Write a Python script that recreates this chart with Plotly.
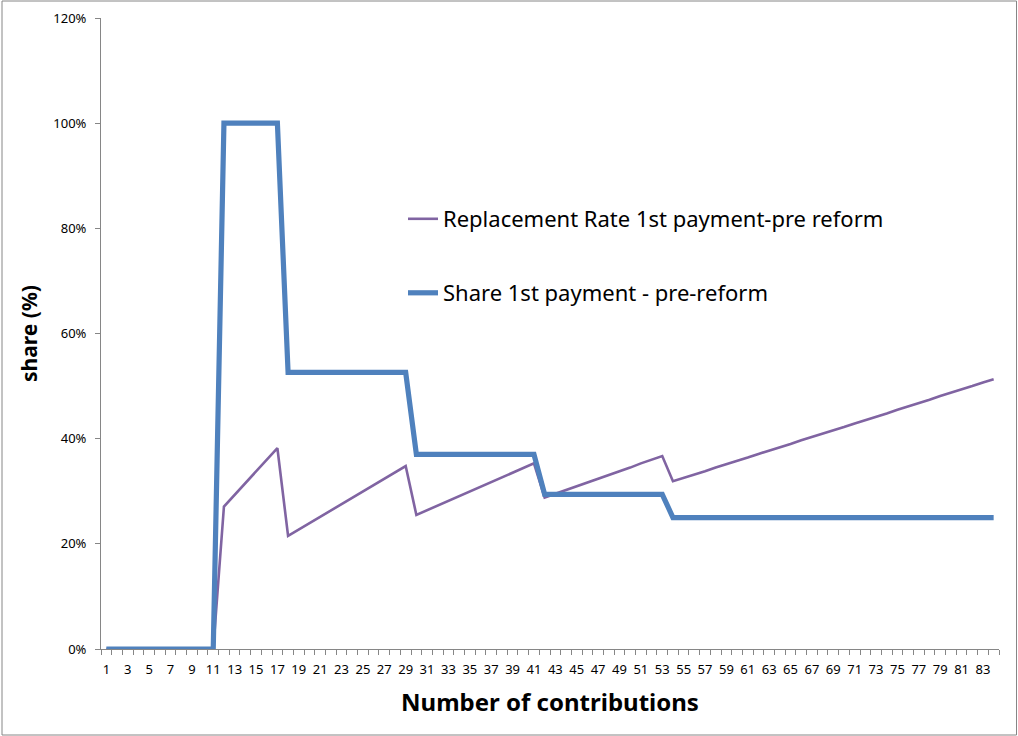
import plotly.graph_objects as go

# Number of contributions (categories 1..84)
contributions = list(range(1, 85))

# Replacement rate of the 1st payment, pre reform (%)
replacement_rate = (
    [0.0] * 11
    + [27.1, 29.3, 31.5, 33.8, 36.0, 38.2]
    + [21.5, 22.7, 23.9, 25.1, 26.3, 27.5, 28.8, 30.0, 31.2, 32.4, 33.6, 34.8]
    + [25.5, 26.4, 27.3, 28.2, 29.1, 30.0, 30.8, 31.7, 32.6, 33.5, 34.4, 35.3]
    + [28.8, 29.5, 30.2, 31.0, 31.7, 32.4, 33.1, 33.8, 34.5, 35.3, 36.0, 36.7]
    + [31.9, 32.5, 33.2, 33.8, 34.5, 35.1, 35.8, 36.4, 37.1, 37.7, 38.4,
       39.0, 39.7, 40.3, 41.0, 41.6, 42.2, 42.9, 43.5, 44.2, 44.8, 45.5,
       46.1, 46.8, 47.4, 48.1, 48.7, 49.4, 50.0, 50.7, 51.3]
)

# Share of the 1st payment, pre reform (%)
share_first_payment = (
    [0.0] * 11
    + [100.0] * 6
    + [52.6] * 12
    + [37.0] * 12
    + [29.4] * 12
    + [25.0] * 31
)

x_tick_labels = [str(v) for v in range(1, 85, 2)]
y_tick_values = [0.0, 0.2, 0.4, 0.6, 0.8, 1.0, 1.2]

W, H = 1018, 736
L, R, T, B = 101, 19, 18, 87
PW, PH = W - L - R, H - T - B


def px_x(px):
    return (px - L) / PW


def px_y(py):
    return (H - B - py) / PH


FONT = "Noto Sans"
AXIS_GRAY = "#868686"

fig = go.Figure()
fig.add_trace(go.Scatter(
    x=contributions, y=[v / 100 for v in replacement_rate],
    mode="lines", name="Replacement Rate 1st payment-pre reform",
    line=dict(color="#8064A2", width=2.6), legend="legend", showlegend=True,
))
fig.add_trace(go.Scatter(
    x=contributions, y=[v / 100 for v in share_first_payment],
    mode="lines", name="Share 1st payment - pre-reform",
    line=dict(color="#4F81BD", width=5.2), legend="legend2", showlegend=True,
))

legend_style = dict(
    xanchor="left", yanchor="middle", bgcolor="rgba(0,0,0,0)",
    font=dict(family=FONT, size=22, color="#000000"),
    itemwidth=30, visible=True,
)

fig.update_layout(
    width=W, height=H,
    margin=dict(l=L, r=R, t=T, b=B),
    paper_bgcolor="#FFFFFF", plot_bgcolor="#FFFFFF",
    font=dict(family=FONT, color="#000000"),
    showlegend=True,
    legend=dict(x=px_x(403), y=px_y(219), **legend_style),
    legend2=dict(x=px_x(403), y=px_y(293), **legend_style),
    xaxis=dict(
        range=[0.5, 84.5], showgrid=False, zeroline=False, automargin=False,
        tickmode="array", tickvals=list(range(1, 85, 2)), ticktext=x_tick_labels,
        ticks="", ticklabelstandoff=8,
        tickfont=dict(family=FONT, size=13, color="#000000"),
        showline=True, linecolor=AXIS_GRAY, linewidth=1,
        minor=dict(tick0=0.5, dtick=1, ticks="outside", ticklen=5,
                   tickcolor=AXIS_GRAY, tickwidth=1, showgrid=False),
        title=dict(text="<b>Number of contributions</b>",
                   font=dict(family=FONT, size=24, color="#000000"), standoff=17),
    ),
    yaxis=dict(
        range=[0, 1.2], showgrid=False, zeroline=False, automargin=False,
        tickmode="array", tickvals=y_tick_values, tickformat=".0%",
        ticks="outside", ticklen=5, tickcolor=AXIS_GRAY, ticklabelstandoff=6,
        tickfont=dict(family=FONT, size=13, color="#000000"),
        showline=True, linecolor=AXIS_GRAY, linewidth=1,
        title=dict(text="<b>share (%)</b>",
                   font=dict(family=FONT, size=21, color="#000000"), standoff=9),
    ),
    shapes=[dict(
        type="rect", xref="paper", yref="paper",
        x0=px_x(2), x1=px_x(1016.5), y0=px_y(735), y1=px_y(1),
        line=dict(color=AXIS_GRAY, width=1), fillcolor="rgba(0,0,0,0)",
        layer="below",
    )],
)

fig.write_html("out.html")
